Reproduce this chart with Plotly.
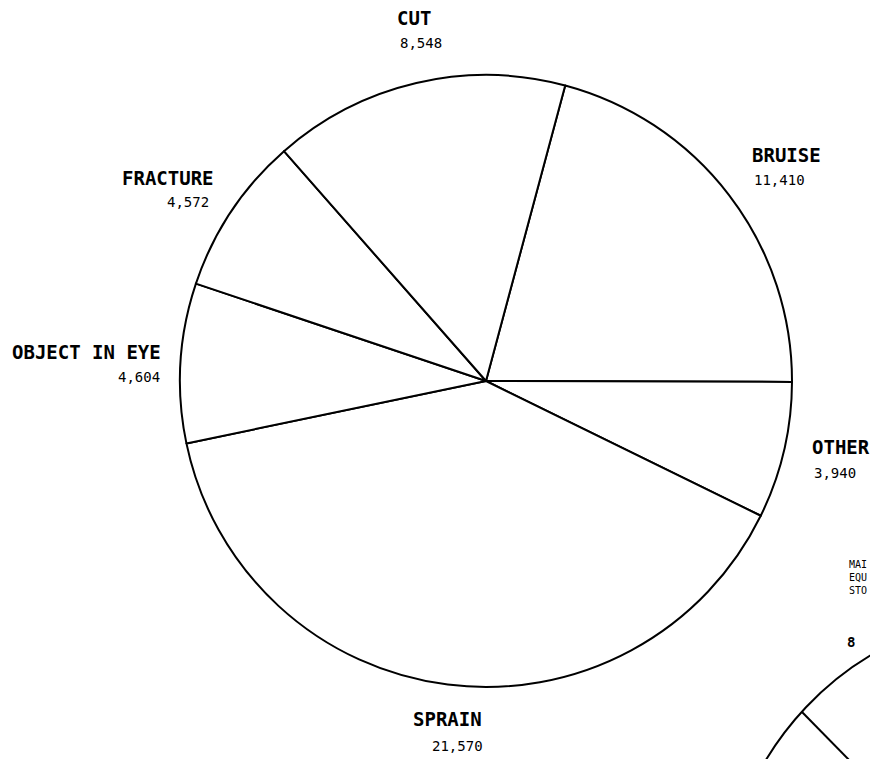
import plotly.graph_objects as go

# injury counts, clockwise starting from BRUISE
injury_types = ["BRUISE", "OTHER", "SPRAIN", "OBJECT IN EYE", "FRACTURE", "CUT"]
injury_counts = [11410, 3940, 21570, 4604, 4572, 8548]
count_labels = ["11,410", "3,940", "21,570", "4,604", "4,572", "8,548"]

# partly visible neighbouring chart at bottom right
next_chart_label = ["MAI", "EQU", "STO"]
next_chart_value = "8"

# label placement in page pixels: name x, name y, value x, value y, anchor
label_pos = {
    "BRUISE": (750, 155, 752, 180, "left"),
    "OTHER": (810, 447, 812, 473, "left"),
    "SPRAIN": (411, 719, 430, 746, "left"),
    "OBJECT IN EYE": (163, 352, 162, 377, "right"),
    "FRACTURE": (216, 178, 211, 202, "right"),
    "CUT": (395, 18, 398, 43, "left"),
}

W, H = 870, 759
NAME_FONT = dict(family="DejaVu Sans Mono", size=19, color="black")
VALUE_FONT = dict(family="DejaVu Sans Mono", size=14, color="black")


def px(x, y):
    return x / W, (H - y) / H


# main pie: centre and radius in page pixels
cx, cy, r = 486, 381, 306
dx0, dy1 = px(cx - r, cy - r)
dx1, dy0 = px(cx + r, cy + r)

fig = go.Figure()
fig.add_trace(
    go.Pie(
        labels=injury_types,
        values=injury_counts,
        sort=False,
        direction="clockwise",
        rotation=15,
        textinfo="none",
        hoverinfo="label+value",
        marker=dict(colors=["white"] * len(injury_types), line=dict(color="black", width=2)),
        domain=dict(x=[dx0, dx1], y=[dy0, dy1]),
        showlegend=False,
    )
)

annotations = []
for name, val in zip(injury_types, count_labels):
    nx, ny, vx, vy, anchor = label_pos[name]
    x, y = px(nx, ny)
    annotations.append(dict(x=x, y=y, xref="paper", yref="paper", text="<b>%s</b>" % name,
                            xanchor=anchor, yanchor="middle", showarrow=False, font=NAME_FONT))
    x, y = px(vx, vy)
    annotations.append(dict(x=x, y=y, xref="paper", yref="paper", text=val,
                            xanchor=anchor, yanchor="middle", showarrow=False, font=VALUE_FONT))

x, y = px(848, 577)
annotations.append(dict(x=x, y=y, xref="paper", yref="paper", text="<br>".join(next_chart_label),
                        xanchor="left", yanchor="middle", align="left", showarrow=False,
                        borderpad=0,
                        font=dict(family="DejaVu Sans Mono", size=10, color="black")))
x, y = px(845, 642)
annotations.append(dict(x=x, y=y, xref="paper", yref="paper", text="<b>%s</b>" % next_chart_value,
                        xanchor="left", yanchor="middle", showarrow=False,
                        font=dict(family="DejaVu Sans Mono", size=14, color="black")))

# outline of the neighbouring pie, mostly off the page
ncx, ncy, na, nb = 1016, 930, 297, 315
x0, y0 = px(ncx - na, ncy + nb)
x1, y1 = px(ncx + na, ncy - nb)
lx0, ly0 = px(ncx, ncy)
lx1, ly1 = px(802, 712)
shapes = [
    dict(type="circle", xref="paper", yref="paper", x0=x0, y0=y0, x1=x1, y1=y1,
         line=dict(color="black", width=2)),
    dict(type="line", xref="paper", yref="paper", x0=lx0, y0=ly0, x1=lx1, y1=ly1,
         line=dict(color="black", width=2)),
]

fig.update_layout(
    width=W,
    height=H,
    margin=dict(l=0, r=0, t=0, b=0),
    paper_bgcolor="white",
    plot_bgcolor="white",
    annotations=annotations,
    shapes=shapes,
)

# drop the default page margin so the figure fills the window
fig.write_html(
    "out.html",
    config={"displayModeBar": False},
    post_script="document.body.style.margin = '0';",
)
